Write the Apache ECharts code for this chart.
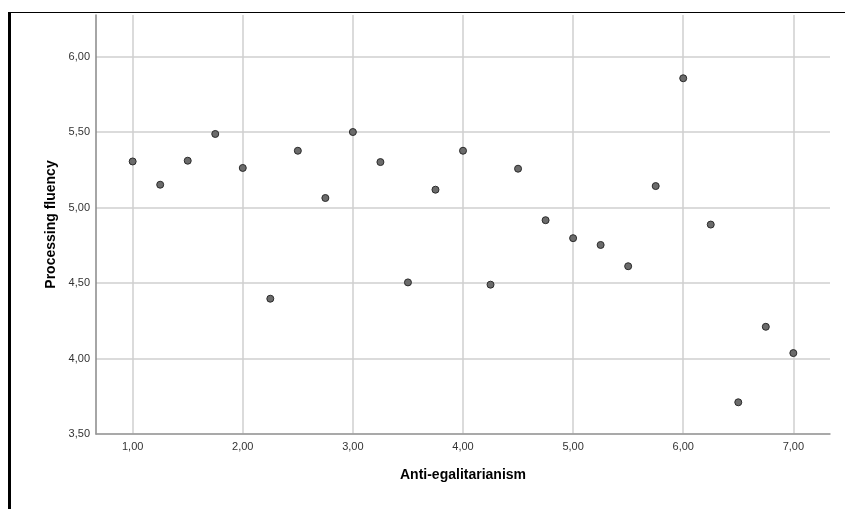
<!DOCTYPE html>
<html>
<head>
<meta charset="utf-8">
<script src="https://cdn.jsdelivr.net/npm/echarts@6/dist/echarts.min.js"></script>
<style>
  html, body { margin: 0; padding: 0; background: #fff; }
  #chart { width: 845px; height: 509px; }
</style>
</head>
<body>
<div id="chart"></div>
<script>
// Anti-egalitarianism (x) vs Processing fluency (y)
var xValues = [1.00, 1.25, 1.50, 1.75, 2.00, 2.25, 2.50, 2.75, 3.00, 3.25, 3.50, 3.75, 4.00,
               4.25, 4.50, 4.75, 5.00, 5.25, 5.50, 5.75, 6.00, 6.25, 6.50, 6.75, 7.00];
var yValues = [5.305, 5.151, 5.31, 5.487, 5.262, 4.396, 5.376, 5.063, 5.50, 5.301, 4.504, 5.118, 5.376,
               4.489, 5.257, 4.916, 4.797, 4.752, 4.611, 5.142, 5.856, 4.887, 3.71, 4.21, 4.036];
var xTicks = [1, 2, 3, 4, 5, 6, 7];
var yTicks = [3.5, 4.0, 4.5, 5.0, 5.5, 6.0];

var points = xValues.map(function (x, i) { return [x, yValues[i]]; });

function fmt(v) {
    return v.toFixed(2).replace('.', ',');
}

var chart = echarts.init(document.getElementById('chart'));

var option = {
    animation: false,
    textStyle: { fontFamily: 'Liberation Sans, Arial, sans-serif' },
    grid: { left: 96, right: 15, top: 15, bottom: 75 },
    graphic: [
        // outer frame (top and left border of the output window)
        { type: 'rect', left: 8, top: 12, shape: { width: 837, height: 1 }, style: { fill: '#000' } },
        { type: 'rect', left: 8, top: 12, shape: { width: 3, height: 497 }, style: { fill: '#000' } }
    ],
    xAxis: {
        type: 'value',
        min: 0.667,
        max: 7.333,
        name: 'Anti-egalitarianism',
        nameLocation: 'middle',
        nameGap: 34,
        nameTextStyle: { fontSize: 14, fontWeight: 'bold', color: '#000' },
        axisLine: { show: true, lineStyle: { color: '#999', width: 1.5 } },
        axisTick: { show: false, customValues: xTicks },
        axisLabel: { customValues: xTicks, formatter: fmt, fontSize: 11, color: '#333', margin: 7 },
        splitLine: { show: true, lineStyle: { color: '#cfcfcf', width: 1.5 } }
    },
    yAxis: {
        type: 'value',
        min: 3.5,
        max: 6.275,
        name: 'Processing fluency',
        nameLocation: 'middle',
        nameGap: 32,
        nameTextStyle: { fontSize: 14, fontWeight: 'bold', color: '#000' },
        axisLine: { show: true, lineStyle: { color: '#888', width: 1.5 } },
        axisTick: { show: false, customValues: yTicks },
        axisLabel: { customValues: yTicks, formatter: fmt, fontSize: 11, color: '#333', margin: 6 },
        splitLine: { show: true, lineStyle: { color: '#cfcfcf', width: 1.5 } }
    },
    series: [{
        type: 'scatter',
        data: points,
        symbol: 'circle',
        symbolSize: 7,
        itemStyle: { color: '#6b6b6b', borderColor: '#2a2a2a', borderWidth: 1, opacity: 1 }
    }]
};

chart.setOption(option);
</script>
</body>
</html>
